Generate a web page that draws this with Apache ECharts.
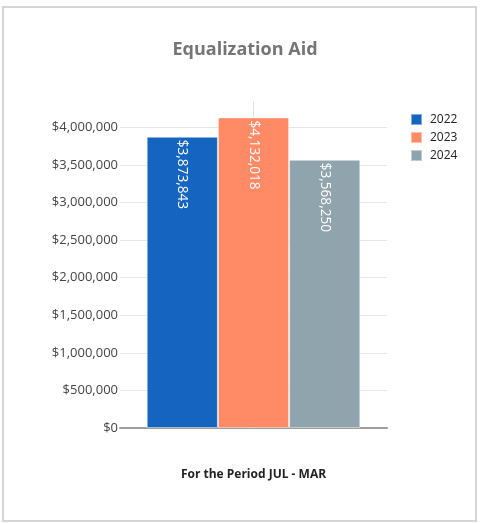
<!DOCTYPE html>
<html>
<head>
<meta charset="utf-8">
<script src="https://cdn.jsdelivr.net/npm/echarts@6/dist/echarts.min.js"></script>
<style>
  html, body { margin: 0; padding: 0; background: #fff; }
  #chart { width: 483px; height: 523px; }
</style>
</head>
<body>
<div id="chart"></div>
<script>
// Equalization Aid, year-to-date totals (JUL - MAR)
const periodLabel = 'For the Period JUL - MAR';
const categories = ['JUL - MAR'];
const years = ['2022', '2023', '2024'];
const amounts = [3873843, 4132018, 3568250];
const yearColors = ['#1565C0', '#FF8A65', '#90A4AE'];
const yTicks = { min: 0, max: 4350000, interval: 500000 };

const money = v => '$' + Math.round(v).toLocaleString('en-US');
const fontFamily = '"Open Sans", "Noto Sans", Arial, sans-serif';

const barSeries = years.map((yr, i) => ({
  name: yr,
  type: 'bar',
  z: 3,
  data: [amounts[i]],
  barGap: '0%',
  barCategoryGap: '20%',
  itemStyle: { color: yearColors[i], borderColor: 'rgba(255,255,255,0.45)', borderWidth: 1 },
  label: {
    show: true,
    position: 'insideTop',
    distance: 3,
    rotate: -90,
    align: 'left',
    verticalAlign: 'middle',
    color: '#ffffff',
    fontSize: 13.6,
    fontFamily,
    formatter: p => money(p.value)
  }
}));

// vertical gridline through the category centre, drawn behind the bars
const centreLine = {
  type: 'line',
  name: 'centre',
  z: 1,
  data: [null],
  showSymbol: false,
  silent: true,
  markLine: {
    z: 1,
    silent: true,
    symbol: 'none',
    label: { show: false },
    lineStyle: { color: '#e0e0e0', width: 1, type: 'solid' },
    data: [{ xAxis: 0 }]
  }
};

const chart = echarts.init(document.getElementById('chart'), null, { renderer: 'canvas' });
chart.setOption({
  animation: false,
  backgroundColor: '#ffffff',
  graphic: [{
    type: 'rect',
    shape: { x: 3, y: 7, width: 473, height: 514 },
    style: { fill: 'none', stroke: '#d6d6d6', lineWidth: 2 },
    silent: true
  }],
  title: {
    text: 'Equalization Aid',
    left: 240,
    textAlign: 'center',
    top: 36,
    textStyle: { color: '#757575', fontSize: 18, fontWeight: 'bold', fontFamily }
  },
  legend: {
    data: years,
    orient: 'vertical',
    left: 405,
    top: 108,
    itemWidth: 11,
    itemHeight: 11,
    itemGap: 5,
    icon: 'rect',
    textStyle: { color: '#222222', fontSize: 12, fontFamily, padding: [0, 0, 0, 3] }
  },
  grid: { left: 120, right: 96, top: 101, bottom: 95, containLabel: false },
  xAxis: {
    type: 'category',
    data: categories,
    name: periodLabel,
    nameLocation: 'middle',
    nameGap: 41,
    nameTextStyle: { color: '#222222', fontSize: 12, fontWeight: 'bold', fontFamily },
    axisLine: { show: true, lineStyle: { color: '#9e9e9e', width: 2 } },
    axisTick: { show: false },
    axisLabel: { show: false },
    splitLine: { show: false }
  },
  yAxis: {
    type: 'value',
    min: yTicks.min,
    max: yTicks.max,
    interval: yTicks.interval,
    axisLine: { show: false },
    axisTick: { show: false },
    axisLabel: {
      color: '#444444',
      fontSize: 13,
      fontFamily,
      margin: 2,
      showMaxLabel: false,
      formatter: v => money(v)
    },
    splitLine: { show: true, showMaxLine: false, lineStyle: { color: '#e6e6e6', width: 1 } }
  },
  series: [centreLine, ...barSeries]
});
</script>
</body>
</html>
